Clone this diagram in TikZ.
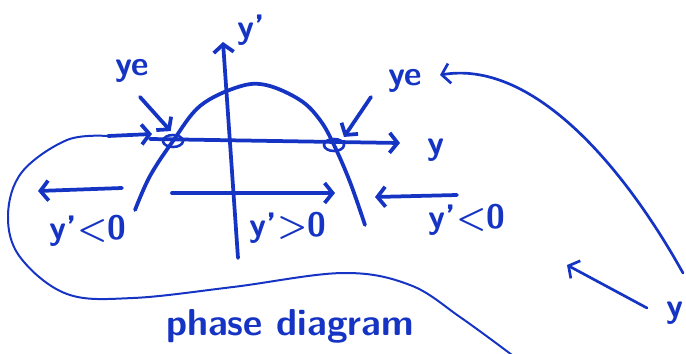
\documentclass[tikz,border=0pt]{standalone}
\usepackage{xcolor}
\usepackage{tikz}
\usetikzlibrary{arrows.meta, positioning, shapes.geometric}

\definecolor{penblue}{RGB}{22,52,196}

\begin{document}
\begin{tikzpicture}[
    x=0.3mm,
    y=-0.3mm,
    ink/.style={draw=penblue, line width=3.2pt, line cap=round, line join=round},
    fineink/.style={draw=penblue, line width=1.7pt, line cap=round, line join=round},
    midink/.style={draw=penblue, line width=2.3pt, line cap=round, line join=round},
    tip/.style={-{Straight Barb[length=2.4mm, width=6mm]}},
    eqpoint/.style={ellipse, draw=penblue, line width=2.2pt, minimum width=6mm, minimum height=3.6mm, inner sep=0pt},
    note/.style={text=penblue, font=\sffamily\bfseries\fontsize{29}{31}\selectfont, inner sep=0pt}
]
    \useasboundingbox (0,0) rectangle (686,353);

    % --- Axes ---
    \coordinate (ybot) at (238,258);
    \coordinate (ytop) at (223,42);
    \coordinate (xleft) at (150,139);
    \coordinate (xright) at (400,143);
    \draw[ink, tip] (ybot) -- (ytop);
    \draw[ink, tip] (xleft) -- (xright);
    \node[note] (yprime) at (251,30) {y'};
    \node[note] (ylabel) at (436,150) {y};

    % --- Parabola y' = f(y) ---
    \draw[ink] plot[smooth, tension=0.6] coordinates {(135,210) (150,176) (173,141) (200,106) (238,87) (266,85) (300,100) (320,120) (334,145) (350,182) (365,225)};

    % --- Equilibria ---
    \node[eqpoint] (eqL) at (173,141) {};
    \node[eqpoint] (eqR) at (334,145) {};
    \node[note] (yeL) at (132,71) {ye};
    \node[note] (yeR) at (405,81) {ye};
    \coordinate (yeLtail) at (140,97);
    \coordinate (yeRtail) at (371,97);
    \draw[ink, tip, shorten >=3pt] (yeLtail) -- (eqL.north);
    \draw[ink, tip, shorten >=3pt] (yeRtail) -- (eqR.north east);

    % --- Flow directions ---
    \coordinate (lwtail) at (122,188);
    \coordinate (lwhead) at (38,191);
    \coordinate (mdtail) at (172,193);
    \coordinate (mdhead) at (335,193);
    \coordinate (rwtail) at (457,195);
    \coordinate (rwhead) at (375,197);
    \draw[ink, tip] (lwtail) -- (lwhead);
    \draw[ink, tip] (mdtail) -- (mdhead);
    \draw[ink, tip] (rwtail) -- (rwhead);
    \node[note] (signL) at (88,231) {y'<0};
    \node[note] (signM) at (288,228) {y'>0};
    \node[note] (signR) at (467,220) {y'<0};

    % --- Loop round the phase line ---
    \coordinate (looptail) at (108,136);
    \coordinate (loophead) at (152,134);
    \draw[ink, tip] (looptail) -- (loophead);
    \draw[fineink] plot[smooth, tension=0.6] coordinates {(looptail) (67,140) (22,172) (8,215) (20,257) (67,294) (133,298) (233,287) (343,273) (410,285) (460,317) (512,355)};

    % --- Pointer to y ---
    \coordinate (bigtail) at (683,273);
    \coordinate (bighead) at (440,75);
    \draw[midink, tip] (bigtail) .. controls (620,160) and (530,60) .. (bighead);
    \node[note] (ycut) at (675,313) {y};
    \coordinate (smalltail) at (647,308);
    \coordinate (smallhead) at (567,265);
    \draw[midink, tip] (smalltail) -- (smallhead);

    % --- Caption ---
    \node[note, font=\sffamily\bfseries\fontsize{32}{34}\selectfont] (caption) at (290,326) {phase diagram};
\end{tikzpicture}
\end{document}
